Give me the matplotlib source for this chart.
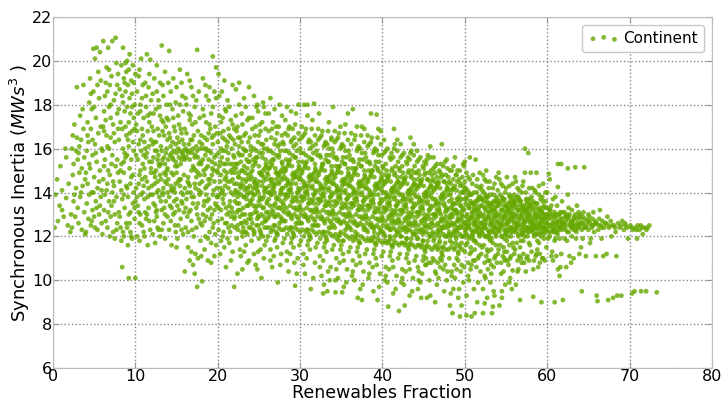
import numpy as np
import matplotlib
matplotlib.use("Agg")
import matplotlib.pyplot as plt

# (renewables fraction, synchronous inertia) points, one block per decade
pts_00_10 = """
0.2 12.4, 0.3 13.9, 0.5 14.6, 0.6 12.7, 0.8 13.4, 0.9 15.2, 1.1 13.2, 1.1 14.1, 1.3 12.9, 1.5 16.0, 1.6 13.75, 1.6 15.6, 1.8 12.5, 1.9 14.4,
2.1 12.2, 2.2 13.0, 2.3 12.4, 2.3 16.0, 2.4 14.8, 2.5 15.3, 2.5 13.6, 2.6 17.1, 2.7 12.9, 2.8 14.2, 2.9 18.8, 2.9 16.5, 3.0 13.3, 3.1 15.8,
3.1 12.6, 3.2 14.9, 3.3 17.5, 3.3 13.8, 3.4 16.4, 3.5 12.3, 3.5 15.1, 3.6 14.3, 3.7 18.9, 3.7 16.9, 3.8 13.1, 3.8 15.6, 3.9 12.1, 3.9 14.6,
2.4 16.6, 2.8 15.9, 3.2 16.1, 3.6 17.8, 2.6 13.9, 3.4 14.0, 3.0 15.5,
4.0 12.2, 4.1 13.5, 4.1 15.9, 4.2 17.2, 4.2 14.4, 4.3 12.8, 4.3 16.3, 4.4 18.1, 4.4 13.9, 4.5 19.2, 4.5 15.1, 4.6 12.5, 4.6 16.9, 4.7 14.0,
4.7 17.8, 4.8 13.2, 4.8 15.7, 4.9 20.55, 4.9 18.6, 5.0 12.9, 5.0 14.7, 5.1 20.1, 5.1 16.2, 5.2 13.6, 5.2 17.4, 5.3 20.6, 5.3 15.4, 5.4 12.3,
5.4 14.2, 5.5 19.5, 5.5 16.7, 5.6 13.0, 5.6 18.3, 5.7 20.4, 5.7 15.0, 5.8 13.8, 5.8 17.0, 5.9 12.6, 5.9 16.0, 4.6 18.5, 5.0 17.9, 5.4 18.9,
5.8 19.1, 4.2 16.6, 4.8 16.4, 5.2 15.8, 5.6 14.5, 4.4 15.3, 4.0 14.9, 5.9 14.1, 5.3 13.3, 4.7 12.7, 5.1 12.4, 4.9 14.0, 5.7 13.4,
6.0 12.1, 6.1 20.9, 6.1 14.6, 6.2 16.8, 6.2 13.2, 6.3 18.4, 6.3 15.5, 6.4 12.7, 6.4 17.3, 6.5 19.7, 6.5 14.1, 6.6 16.1, 6.6 12.4, 6.7 20.6,
6.7 15.0, 6.8 13.6, 6.8 17.9, 6.9 18.9, 6.9 14.8, 7.0 12.9, 7.0 16.5, 7.1 19.3, 7.1 13.4, 7.2 20.9, 7.2 15.7, 7.3 17.1, 7.3 12.2, 7.4 14.3,
7.4 18.2, 7.5 16.3, 7.5 13.0, 7.6 21.05, 7.6 15.2, 7.7 19.9, 7.7 13.8, 7.8 17.6, 7.8 12.6, 7.9 14.9, 7.9 16.9, 6.0 15.9, 6.2 17.7, 6.4 19.0,
6.6 18.6, 6.8 16.0, 7.0 18.0, 7.2 14.0, 7.4 16.7, 7.6 18.5, 7.8 15.5, 6.3 13.9, 6.9 12.0, 7.5 11.9, 6.1 17.0, 6.5 16.6, 6.7 13.1, 7.1 15.3,
7.3 14.5, 7.7 12.3, 7.9 19.4, 6.6 14.4, 7.0 17.4, 7.4 13.6, 7.8 18.9, 6.2 15.2, 6.8 19.6,
8.0 13.1, 8.0 16.4, 8.1 18.7, 8.1 14.5, 8.2 12.4, 8.2 17.2, 8.3 19.8, 8.3 15.3, 8.4 10.6, 8.4 13.7, 8.5 20.6, 8.5 18.1, 8.5 16.0, 8.6 12.0,
8.6 19.2, 8.6 14.9, 8.7 17.7, 8.7 13.3, 8.8 18.6, 8.8 15.6, 8.9 19.5, 8.9 12.6, 9.0 20.0, 9.0 17.9, 9.0 14.2, 9.1 18.9, 9.1 16.4, 9.2 10.1,
9.2 19.6, 9.2 13.0, 9.3 20.3, 9.3 18.3, 9.3 15.1, 9.4 17.6, 9.4 12.2, 9.5 19.1, 9.5 14.7, 9.6 18.5, 9.6 16.8, 9.7 19.8, 9.7 13.5, 9.8 17.4,
9.8 15.9, 9.9 18.0, 9.9 12.8, 10.0 19.4, 10.0 10.1, 8.2 15.0, 8.4 16.9, 8.6 13.9, 8.8 17.0, 9.0 12.4, 9.2 16.1, 9.4 14.4, 9.6 11.9, 9.8 14.0,
8.1 12.9, 8.3 14.1, 8.5 12.2, 8.7 15.8, 8.9 16.6, 9.1 13.8, 9.3 12.6, 9.5 15.5, 9.7 16.3, 9.9 13.3, 8.0 17.8, 8.4 18.4, 8.8 19.9, 9.2 17.2,
9.6 17.9, 9.9 16.9, 8.3 11.8, 9.1 11.6, 9.5 12.0, 8.6 15.4, 9.4 13.1, 8.9 14.3, 9.7 14.8, 9.0 15.7, 8.7 19.0, 9.8 19.0, 9.3 16.7
"""

pts_10_20 = """
10.1 14.2, 10.1 17.1, 10.2 12.0, 10.2 18.6, 10.3 15.5, 10.3 13.4, 10.4 19.3, 10.4 16.2, 10.5 11.8, 10.5 14.8, 10.6 17.7, 10.6 13.0,
10.7 20.1, 10.7 15.9, 10.8 12.5, 10.8 18.3, 10.9 14.0, 10.9 16.6, 11.0 12.2, 11.0 17.4, 11.1 15.1, 11.1 13.7, 11.2 19.0, 11.2 16.0,
11.3 12.8, 11.3 17.9, 11.4 20.3, 11.4 14.5, 11.5 16.8, 11.5 11.6, 11.6 13.3, 11.6 18.8, 11.7 15.4, 11.7 17.2, 11.8 20.05, 11.8 12.3,
11.9 14.9, 11.9 16.4, 10.2 16.8, 10.4 14.4, 10.6 15.0, 10.8 16.9, 11.0 14.3, 11.2 13.1, 11.4 15.8, 11.6 14.2, 11.8 17.6, 10.3 17.6,
10.5 12.6, 10.7 13.9, 10.9 18.9, 11.1 12.0, 11.3 15.6, 11.5 13.8, 11.7 12.7, 11.9 18.2, 10.1 15.7, 10.6 18.0, 11.1 16.3, 11.6 16.1,
10.4 13.1, 10.9 15.3, 11.4 13.0, 11.9 15.1, 10.0 13.6, 10.8 14.6, 11.2 14.7, 11.7 19.4, 10.5 19.6, 11.3 18.4, 10.2 13.8, 11.0 15.7,
11.8 13.9, 10.6 16.4, 11.5 17.5,
12.0 14.3, 12.0 17.0, 12.1 12.1, 12.1 18.5, 12.2 15.6, 12.2 13.5, 12.3 19.2, 12.3 16.3, 12.4 11.7, 12.4 14.7, 12.5 17.8, 12.5 13.1,
12.6 19.8, 12.6 15.9, 12.7 12.4, 12.7 16.9, 12.8 14.1, 12.8 18.2, 12.9 15.2, 12.9 13.8, 13.0 17.5, 13.0 12.0, 13.1 16.1, 13.1 14.6,
13.2 20.7, 13.2 13.2, 13.3 18.9, 13.3 15.5, 13.4 12.6, 13.4 17.2, 13.5 14.9, 13.5 16.6, 13.6 11.9, 13.6 19.5, 13.7 15.8, 13.7 13.6,
13.8 18.0, 13.8 14.4, 13.9 16.4, 13.9 12.9, 12.0 15.4, 12.2 16.8, 12.4 15.9, 12.6 14.0, 12.8 15.7, 13.0 14.8, 13.2 15.9, 13.4 14.2,
13.6 15.3, 13.8 16.0, 12.1 13.9, 12.3 12.7, 12.5 15.0, 12.7 14.5, 12.9 16.6, 13.1 13.6, 13.3 14.0, 13.5 13.3, 13.7 17.0, 13.9 15.1,
12.2 17.6, 12.6 18.6, 13.0 19.0, 13.4 18.4, 13.8 17.4, 12.4 13.4, 12.8 12.3, 13.2 12.3, 13.6 13.0, 12.1 16.2, 12.5 16.3, 12.9 17.9,
13.3 16.8, 13.7 14.8, 12.3 14.9, 12.7 15.5, 13.1 15.3, 13.5 15.6, 13.9 14.0, 13.2 17.3, 12.6 12.9,
14.0 14.6, 14.0 17.3, 14.1 20.45, 14.1 12.3, 14.2 15.7, 14.2 13.4, 14.3 18.6, 14.3 16.1, 14.4 11.6, 14.4 14.9, 14.5 17.8, 14.5 15.6,
14.6 13.0, 14.6 19.2, 14.7 15.9, 14.7 14.2, 14.8 16.8, 14.8 12.5, 14.9 15.4, 14.9 18.1, 15.0 13.7, 15.0 15.8, 15.1 16.5, 15.1 11.9,
15.2 14.5, 15.2 17.5, 15.3 15.6, 15.3 13.2, 15.4 19.6, 15.4 15.9, 15.5 12.8, 15.5 16.9, 15.6 14.0, 15.6 15.5, 15.7 18.4, 15.7 13.5,
15.8 15.7, 15.8 12.1, 15.9 16.2, 15.9 14.8, 14.0 15.5, 14.2 16.5, 14.4 15.8, 14.6 15.5, 14.8 14.0, 15.0 14.9, 15.2 16.0, 15.4 14.3,
15.6 16.7, 15.8 13.9, 14.1 13.8, 14.3 12.7, 14.5 14.1, 14.7 17.0, 14.9 12.2, 15.1 13.4, 15.3 17.1, 15.5 14.6, 15.7 15.8, 15.9 13.1,
14.2 18.0, 14.6 17.4, 15.0 18.8, 15.4 18.0, 15.8 17.7, 14.4 13.3, 14.8 13.1, 15.2 12.5, 15.6 12.3, 14.1 16.7, 14.5 16.3, 14.9 16.2,
15.3 16.3, 15.7 16.4, 14.3 14.3, 14.7 13.6, 15.1 15.2, 15.5 15.3, 15.9 15.6, 14.0 19.0, 15.0 11.5, 15.6 19.0, 14.9 14.4,
16.0 14.2, 16.0 16.9, 16.1 12.4, 16.1 18.3, 16.2 15.6, 16.2 13.7, 16.3 19.4, 16.3 15.9, 16.4 11.5, 16.4 14.7, 16.5 17.6, 16.5 13.1,
16.6 15.5, 16.6 10.9, 16.7 16.4, 16.7 14.0, 16.8 18.8, 16.8 12.7, 16.9 15.8, 16.9 17.1, 17.0 13.5, 17.0 15.2, 17.1 16.6, 17.1 12.0,
17.2 14.4, 17.2 17.9, 17.3 15.7, 17.3 11.2, 17.4 13.3, 17.4 16.1, 17.5 20.5, 17.5 9.7, 17.6 14.9, 17.6 15.6, 17.7 12.8, 17.7 18.6,
17.8 16.3, 17.8 13.9, 17.9 15.4, 17.9 11.8, 16.0 15.5, 16.2 16.7, 16.4 15.8, 16.6 14.3, 16.8 15.0, 17.0 16.0, 17.2 15.6, 17.4 14.7,
17.6 16.8, 17.8 14.4, 16.1 13.3, 16.3 12.9, 16.5 14.4, 16.7 17.5, 16.9 12.3, 17.1 13.8, 17.3 17.2, 17.5 13.0, 17.7 15.3, 17.9 12.6,
16.2 18.0, 16.6 19.1, 17.0 18.4, 17.4 18.2, 17.8 17.4, 16.4 12.2, 16.8 11.3, 17.2 10.3, 17.6 11.0, 16.1 16.0, 16.5 16.2, 16.9 16.4,
17.3 14.2, 17.7 14.1, 16.3 14.0, 16.7 13.2, 17.1 15.1, 17.5 15.9, 17.9 16.0, 16.0 10.4, 17.0 10.7, 16.6 17.3, 17.4 12.4,
18.0 14.0, 18.0 16.6, 18.1 9.95, 18.1 12.5, 18.2 15.5, 18.2 17.8, 18.3 13.4, 18.3 16.0, 18.4 11.4, 18.4 14.8, 18.5 18.9, 18.5 15.7,
18.6 12.9, 18.6 17.2, 18.7 14.3, 18.7 16.4, 18.8 11.9, 18.8 15.2, 18.9 18.2, 18.9 13.7, 19.0 15.9, 19.0 12.2, 19.1 16.9, 19.1 14.6,
19.2 10.8, 19.2 17.6, 19.3 15.4, 19.3 13.0, 19.4 20.2, 19.4 16.2, 19.5 12.6, 19.5 14.1, 19.6 18.6, 19.6 15.6, 19.7 13.5, 19.7 17.0,
19.8 19.7, 19.8 11.6, 19.9 15.0, 19.9 16.7, 18.0 15.3, 18.2 13.0, 18.4 16.5, 18.6 15.1, 18.8 13.2, 19.0 14.4, 19.2 15.8, 19.4 13.9,
19.6 14.5, 19.8 15.7, 18.1 14.5, 18.3 17.5, 18.5 12.0, 18.7 15.9, 18.9 16.7, 19.1 12.8, 19.3 14.8, 19.5 16.6, 19.7 12.1, 19.9 13.8,
18.2 19.2, 18.6 18.4, 19.0 18.8, 19.4 17.9, 19.8 18.3, 18.4 12.7, 18.8 10.9, 19.2 11.7, 19.6 11.1, 18.1 16.2, 18.5 14.2, 18.9 15.5,
19.3 16.5, 19.7 15.3, 18.3 15.0, 18.7 13.6, 19.1 13.3, 19.5 15.0, 19.9 14.2, 18.0 11.1, 19.0 17.1, 18.6 13.9, 19.4 12.4
"""

pts_20_30 = """
20.0 13.8, 20.0 16.3, 20.1 19.4, 20.1 12.3, 20.2 15.2, 20.2 17.5, 20.3 14.5, 20.3 11.2, 20.4 16.0, 20.4 13.2, 20.5 18.6, 20.5 15.6,
20.6 12.0, 20.6 14.1, 20.7 16.8, 20.7 13.5, 20.8 19.1, 20.8 15.0, 20.9 12.6, 20.9 17.8, 21.0 14.7, 21.0 10.6, 21.1 16.1, 21.1 13.0,
21.2 15.5, 21.2 18.2, 21.3 12.4, 21.3 14.2, 21.4 16.6, 21.4 11.7, 21.5 15.3, 21.5 13.6, 21.6 17.3, 21.6 12.9, 21.7 14.9, 21.7 16.0,
21.8 18.9, 21.8 11.3, 21.9 15.7, 21.9 13.9, 22.0 9.7, 22.0 14.4, 20.0 14.9, 20.2 13.9, 20.4 14.8, 20.6 15.9, 20.8 13.9, 21.0 15.3,
21.2 14.5, 21.4 13.4, 21.6 15.0, 21.8 14.6, 20.1 15.8, 20.3 16.7, 20.5 12.8, 20.7 12.2, 20.9 14.3, 21.1 14.9, 21.3 15.8, 21.5 12.2,
21.7 13.3, 21.9 16.4, 20.2 18.4, 20.6 17.4, 21.0 17.7, 21.4 17.9, 21.8 17.1, 20.4 11.8, 20.8 11.5, 21.2 11.9, 21.6 10.9, 20.1 13.3,
20.5 14.0, 20.9 15.9, 21.3 16.9, 21.7 12.5, 20.3 15.4, 20.7 15.3, 21.1 12.6, 21.5 14.5, 21.9 15.1, 20.0 12.7, 20.6 16.5, 21.2 16.3,
21.8 13.1, 20.4 17.2, 21.0 13.3, 21.6 16.5, 20.9 16.4,
22.0 12.8, 22.1 16.2, 22.1 13.6, 22.2 18.7, 22.2 15.1, 22.3 11.9, 22.3 14.4, 22.4 17.0, 22.4 12.5, 22.5 15.8, 22.5 13.2, 22.6 19.0,
22.6 14.9, 22.7 11.4, 22.7 16.5, 22.8 13.9, 22.8 15.4, 22.9 12.2, 22.9 17.6, 23.0 14.6, 23.0 10.5, 23.1 16.0, 23.1 13.3, 23.2 15.2,
23.2 18.3, 23.3 12.7, 23.3 14.1, 23.4 16.7, 23.4 11.6, 23.5 15.5, 23.5 13.7, 23.6 17.3, 23.6 12.1, 23.7 14.8, 23.7 16.3, 23.8 18.8,
23.8 10.9, 23.9 15.7, 23.9 13.0, 22.0 15.6, 22.2 14.0, 22.4 15.3, 22.6 13.5, 22.8 14.2, 23.0 15.7, 23.2 13.8, 23.4 14.5, 23.6 15.1,
23.8 14.0, 22.1 12.4, 22.3 16.8, 22.5 14.7, 22.7 12.9, 22.9 15.0, 23.1 12.4, 23.3 15.9, 23.5 12.6, 23.7 13.4, 23.9 16.5, 22.2 17.5,
22.6 18.0, 23.0 17.1, 23.4 17.9, 23.8 17.4, 22.4 10.3, 22.8 11.1, 23.2 11.3, 23.6 10.8, 22.1 14.9, 22.5 16.5, 22.9 16.3, 23.3 13.0,
23.7 15.4, 22.3 13.1, 22.7 14.3, 23.1 14.3, 23.5 14.2, 23.9 14.6, 22.0 16.9, 22.6 16.1, 23.2 16.6, 23.8 12.4, 22.4 13.8, 23.0 12.0,
23.6 13.9, 22.8 12.6, 23.4 12.2,
24.0 13.5, 24.0 16.1, 24.1 11.8, 24.1 14.7, 24.2 17.4, 24.2 12.6, 24.3 15.5, 24.3 13.9, 24.4 18.4, 24.4 12.1, 24.5 14.4, 24.5 16.6,
24.6 10.7, 24.6 13.3, 24.7 15.9, 24.7 17.9, 24.8 12.8, 24.8 14.1, 24.9 16.3, 24.9 11.3, 25.0 15.2, 25.0 13.6, 25.1 17.1, 25.1 12.3,
25.2 14.9, 25.2 16.8, 25.3 10.1, 25.3 13.0, 25.4 15.6, 25.4 14.3, 25.5 18.1, 25.5 12.0, 25.6 16.0, 25.6 13.8, 25.7 11.6, 25.7 15.1,
25.8 17.6, 25.8 12.7, 25.9 14.6, 25.9 16.4, 24.0 14.9, 24.2 15.0, 24.4 14.5, 24.6 15.4, 24.8 15.6, 25.0 14.5, 25.2 13.4, 25.4 12.6,
25.6 14.7, 25.8 15.5, 24.1 13.0, 24.3 12.3, 24.5 15.3, 24.7 12.5, 24.9 14.0, 25.1 15.8, 25.3 16.2, 25.5 13.3, 25.7 14.0, 25.9 13.1,
24.2 16.9, 24.6 17.0, 25.0 16.6, 25.4 17.2, 25.8 16.9, 24.4 11.2, 24.8 10.5, 25.2 11.4, 25.6 11.0, 24.1 15.9, 24.5 13.1, 24.9 12.9,
25.3 14.8, 25.7 12.4, 24.3 14.2, 24.7 14.4, 25.1 13.8, 25.5 15.0, 25.9 15.2, 24.0 12.4, 24.6 14.2, 25.2 12.2, 25.8 14.2, 24.4 16.0,
25.0 11.9, 25.6 12.9, 24.8 13.4, 25.4 13.7, 24.2 13.7, 25.9 11.8, 24.9 17.7, 25.5 16.2, 24.8 18.0, 25.6 17.9,
26.0 13.6, 26.0 16.0, 26.1 12.0, 26.1 14.8, 26.2 17.6, 26.2 12.9, 26.3 15.4, 26.3 14.0, 26.4 18.3, 26.4 11.4, 26.5 14.5, 26.5 16.5,
26.6 10.6, 26.6 13.2, 26.7 15.8, 26.7 17.2, 26.8 12.5, 26.8 14.2, 26.9 16.2, 26.9 11.8, 27.0 15.1, 27.0 13.5, 27.1 17.0, 27.1 12.2,
27.2 14.9, 27.2 16.7, 27.3 9.9, 27.3 13.0, 27.4 15.6, 27.4 14.4, 27.5 18.0, 27.5 12.6, 27.6 15.9, 27.6 13.9, 27.7 11.2, 27.7 15.0,
27.8 17.5, 27.8 12.8, 27.9 14.6, 27.9 16.3, 26.0 14.9, 26.2 15.1, 26.4 14.6, 26.6 15.3, 26.8 15.5, 27.0 14.4, 27.2 13.3, 27.4 12.4,
27.6 14.7, 27.8 15.4, 26.1 13.1, 26.3 12.4, 26.5 15.2, 26.7 12.3, 26.9 14.0, 27.1 15.7, 27.3 16.1, 27.5 13.3, 27.7 14.0, 27.9 13.2,
26.2 16.8, 26.6 16.9, 27.0 16.4, 27.4 17.0, 27.8 16.6, 26.4 10.9, 26.8 11.1, 27.2 11.5, 27.6 10.7, 26.1 15.9, 26.5 13.0, 26.9 12.9,
27.3 14.8, 27.7 12.3, 26.3 14.3, 26.7 14.4, 27.1 13.8, 27.5 14.9, 27.9 15.1, 26.0 12.4, 26.6 14.1, 27.2 12.1, 27.8 14.2, 26.4 15.9,
27.0 11.9, 27.6 12.9, 26.8 13.4, 27.4 13.7, 26.2 13.7, 27.9 11.7, 26.9 17.8, 27.5 16.2, 26.5 13.9, 27.1 14.6, 27.7 13.6,
28.0 13.4, 28.0 16.2, 28.1 11.9, 28.1 14.7, 28.2 17.3, 28.2 12.7, 28.3 15.5, 28.3 13.9, 28.4 17.9, 28.4 11.3, 28.5 14.4, 28.5 16.6,
28.6 10.4, 28.6 13.1, 28.7 15.8, 28.7 17.0, 28.8 12.4, 28.8 14.1, 28.9 16.3, 28.9 11.7, 29.0 15.2, 29.0 13.6, 29.1 16.9, 29.1 12.2,
29.2 14.9, 29.2 16.1, 29.3 10.8, 29.3 13.0, 29.4 15.6, 29.4 9.75, 29.5 17.6, 29.5 12.6, 29.6 15.9, 29.6 13.8, 29.7 11.0, 29.7 15.0,
29.8 18.0, 29.8 12.8, 29.9 14.6, 29.9 16.4, 28.0 14.9, 28.2 15.1, 28.4 14.6, 28.6 15.3, 28.8 15.5, 29.0 14.4, 29.2 13.3, 29.4 12.4,
29.6 14.7, 29.8 15.4, 28.1 13.1, 28.3 12.4, 28.5 15.2, 28.7 12.3, 28.9 14.0, 29.1 15.7, 29.3 16.5, 29.5 13.3, 29.7 14.0, 29.9 13.2,
28.2 16.7, 28.6 16.9, 29.0 16.4, 29.4 17.1, 29.8 16.7, 28.4 10.9, 28.8 11.2, 29.2 11.5, 29.6 10.3, 28.1 15.9, 28.5 13.0, 28.9 12.9,
29.3 14.8, 29.7 12.3, 28.3 14.3, 28.7 14.4, 29.1 13.8, 29.5 14.9, 29.9 15.1, 28.0 12.3, 28.6 14.1, 29.2 12.1, 29.8 14.2, 28.4 15.9,
29.0 11.9, 29.6 12.9, 28.8 13.4, 29.4 13.7, 28.2 13.7, 29.9 11.6, 28.9 17.7, 29.5 16.2, 28.5 13.9, 29.1 14.6, 29.7 13.6
"""

pts_30_40 = """
30.0 13.3, 30.0 16.0, 30.1 11.8, 30.1 14.6, 30.2 17.0, 30.2 12.6, 30.3 15.4, 30.3 13.8, 30.4 16.6, 30.4 11.2, 30.5 18.0, 30.5 14.3,
30.6 10.3, 30.6 13.0, 30.7 15.7, 30.7 16.9, 30.8 12.3, 30.8 14.0, 30.9 18.0, 30.9 11.6, 31.0 15.1, 31.0 13.5, 31.1 16.4, 31.1 12.1,
31.2 14.8, 31.2 16.0, 31.3 9.6, 31.3 12.9, 31.4 15.5, 31.4 14.2, 31.5 17.3, 31.5 12.5, 31.6 15.8, 31.6 13.7, 31.7 18.05, 31.7 14.9,
31.8 10.8, 31.8 12.7, 31.9 14.5, 31.9 16.2, 30.0 14.8, 30.2 15.0, 30.4 14.5, 30.6 15.2, 30.8 15.4, 31.0 14.3, 31.2 13.2, 31.4 12.3,
31.6 14.6, 31.8 15.3, 30.1 13.0, 30.3 12.3, 30.5 15.1, 30.7 12.2, 30.9 13.9, 31.1 15.6, 31.3 16.3, 31.5 13.2, 31.7 13.9, 31.9 13.1,
30.2 16.5, 30.6 16.7, 31.0 16.3, 31.4 16.9, 31.8 16.6, 30.4 10.7, 30.8 11.0, 31.2 11.4, 31.6 10.1, 30.1 15.8, 30.5 12.9, 30.9 12.8,
31.3 14.7, 31.7 12.2, 30.3 14.2, 30.7 14.3, 31.1 13.7, 31.5 14.8, 31.9 15.0, 30.0 12.2, 30.6 14.0, 31.2 12.0, 31.8 14.1, 30.4 15.8,
31.0 11.8, 31.6 12.8, 30.8 13.3, 31.4 13.6, 30.2 13.6, 31.9 11.5, 30.9 17.5, 31.5 16.1, 30.5 13.8, 31.1 14.5, 31.7 13.5,
32.0 13.2, 32.0 15.9, 32.1 11.7, 32.1 14.5, 32.2 16.9, 32.2 12.5, 32.3 17.6, 32.3 13.7, 32.4 16.5, 32.4 11.1, 32.5 14.2, 32.5 15.6,
32.6 10.2, 32.6 12.9, 32.7 15.3, 32.7 16.8, 32.8 12.2, 32.8 9.4, 32.9 16.1, 32.9 11.5, 33.0 15.0, 33.0 13.4, 33.1 16.3, 33.1 12.0,
33.2 14.7, 33.2 15.7, 33.3 9.5, 33.3 12.8, 33.4 15.4, 33.4 14.1, 33.5 17.2, 33.5 12.4, 33.6 15.7, 33.6 13.6, 33.7 10.6, 33.7 14.8,
33.8 16.4, 33.8 12.6, 33.9 14.4, 33.9 16.0, 32.0 14.7, 32.2 14.9, 32.4 14.4, 32.6 15.1, 32.8 15.3, 33.0 14.2, 33.2 13.1, 33.4 12.2,
33.6 14.5, 33.8 15.2, 32.1 12.9, 32.3 12.2, 32.5 15.0, 32.7 12.1, 32.9 13.8, 33.1 15.5, 33.3 16.2, 33.5 13.1, 33.7 13.8, 33.9 13.0,
32.2 16.4, 32.6 16.6, 33.0 16.2, 33.4 16.8, 33.8 16.5, 32.4 10.6, 32.8 10.9, 33.2 11.3, 33.6 10.0, 32.1 15.7, 32.5 12.8, 32.9 12.7,
33.3 14.6, 33.7 12.1, 32.3 14.1, 32.7 14.2, 33.1 13.6, 33.5 14.7, 33.9 14.9, 32.0 12.1, 32.6 13.9, 33.2 11.9, 33.8 14.0, 32.4 15.7,
33.0 11.7, 33.6 12.7, 32.8 13.2, 33.4 13.5, 32.2 13.5, 33.9 11.4, 34.0 17.9, 33.5 16.0, 32.5 13.7, 33.1 14.4, 33.7 13.4, 32.9 9.8,
33.4 10.4, 32.8 13.9,
34.0 13.1, 34.0 15.8, 34.1 11.6, 34.1 14.4, 34.2 16.8, 34.2 12.4, 34.3 15.2, 34.3 9.45, 34.4 16.4, 34.4 11.0, 34.5 14.1, 34.5 15.5,
34.6 10.1, 34.6 12.8, 34.7 15.2, 34.7 16.7, 34.8 12.1, 34.8 13.8, 34.9 16.0, 34.9 11.4, 35.0 14.9, 35.0 13.3, 35.1 16.2, 35.1 9.45,
35.2 14.6, 35.2 15.6, 35.3 9.7, 35.3 12.7, 35.4 15.3, 35.4 14.0, 35.5 17.1, 35.5 12.3, 35.6 15.6, 35.6 13.5, 35.7 10.5, 35.7 14.7,
35.8 17.6, 35.8 12.5, 35.9 14.3, 35.9 15.9, 34.0 14.6, 34.2 14.8, 34.4 14.3, 34.6 15.0, 34.8 15.2, 35.0 14.1, 35.2 13.0, 35.4 12.1,
35.6 14.4, 35.8 15.1, 34.1 12.8, 34.3 12.1, 34.5 14.9, 34.7 12.0, 34.9 13.7, 35.1 15.4, 35.3 16.1, 35.5 13.0, 35.7 13.7, 35.9 12.9,
34.2 16.3, 34.6 16.5, 35.0 16.1, 35.4 16.7, 35.8 16.4, 34.4 10.5, 34.8 10.8, 35.2 11.2, 35.6 9.9, 34.1 15.6, 34.5 12.7, 34.9 12.6,
35.3 14.5, 35.7 12.0, 34.3 14.0, 34.7 14.1, 35.1 13.5, 35.5 14.6, 35.9 14.8, 34.0 12.0, 34.6 13.8, 35.2 11.8, 35.8 13.9, 34.4 15.6,
35.0 11.6, 35.6 12.6, 34.8 13.1, 35.4 13.4, 34.2 13.4, 35.9 11.3, 34.9 17.0, 35.5 15.9, 34.5 13.6, 35.1 14.3, 35.7 13.3, 34.3 10.0,
35.3 10.9, 34.7 11.8,
36.0 13.0, 36.0 15.7, 36.1 11.5, 36.1 14.3, 36.2 16.7, 36.2 12.3, 36.3 15.1, 36.3 13.5, 36.4 17.8, 36.4 10.9, 36.5 14.0, 36.5 15.4,
36.6 10.0, 36.6 12.7, 36.7 15.1, 36.7 16.6, 36.8 12.0, 36.8 13.7, 36.9 15.9, 36.9 11.3, 37.0 14.8, 37.0 9.2, 37.1 16.1, 37.1 11.8,
37.2 14.5, 37.2 15.5, 37.3 9.6, 37.3 12.6, 37.4 15.2, 37.4 13.9, 37.5 17.0, 37.5 9.1, 37.6 15.5, 37.6 13.4, 37.7 10.4, 37.7 14.6,
37.8 16.3, 37.8 12.4, 37.9 14.2, 37.9 15.8, 36.0 14.5, 36.2 14.7, 36.4 14.2, 36.6 14.9, 36.8 15.1, 37.0 14.0, 37.2 12.9, 37.4 12.0,
37.6 14.3, 37.8 15.0, 36.1 12.7, 36.3 12.0, 36.5 14.8, 36.7 11.9, 36.9 13.6, 37.1 15.3, 37.3 16.0, 37.5 12.9, 37.7 13.6, 37.9 12.8,
36.2 16.2, 36.6 16.4, 37.0 16.0, 37.4 16.6, 37.8 16.9, 36.4 10.4, 36.8 10.7, 37.2 11.1, 37.6 9.8, 36.1 15.5, 36.5 12.6, 36.9 12.5,
37.3 14.4, 37.7 11.9, 36.3 13.9, 36.7 14.0, 37.1 13.4, 37.5 14.5, 37.9 14.7, 36.0 11.9, 36.6 13.7, 37.2 11.7, 37.8 13.8, 36.4 15.5,
37.0 11.5, 37.6 12.5, 36.8 13.0, 37.4 13.3, 36.2 13.3, 37.9 11.2, 36.9 17.0, 37.5 15.8, 36.5 13.5, 37.1 14.2, 37.7 13.2, 36.3 10.2,
37.3 10.8, 37.0 13.2, 36.7 12.2,
38.0 12.9, 38.0 15.6, 38.1 11.4, 38.1 14.2, 38.2 16.6, 38.2 12.2, 38.3 15.0, 38.3 13.4, 38.4 16.2, 38.4 10.8, 38.5 13.9, 38.5 15.3,
38.6 17.6, 38.6 12.6, 38.7 15.0, 38.7 16.5, 38.8 11.9, 38.8 13.6, 38.9 15.8, 38.9 11.2, 39.0 14.7, 39.0 13.1, 39.1 16.0, 39.1 11.7,
39.2 14.4, 39.2 15.4, 39.3 17.55, 39.3 12.5, 39.4 15.1, 39.4 9.1, 39.5 16.9, 39.5 12.1, 39.6 15.4, 39.6 13.3, 39.7 10.3, 39.7 14.5,
39.8 16.2, 39.8 12.3, 39.9 14.1, 39.9 15.7, 38.0 14.4, 38.2 14.6, 38.4 14.1, 38.6 14.8, 38.8 15.0, 39.0 13.9, 39.2 12.8, 39.4 11.9,
39.6 14.2, 39.8 14.9, 38.1 12.6, 38.3 11.9, 38.5 14.7, 38.7 11.8, 38.9 13.5, 39.1 15.2, 39.3 15.9, 39.5 12.8, 39.7 13.5, 39.9 12.7,
38.2 16.1, 38.6 16.3, 39.0 15.9, 39.4 16.5, 39.8 16.8, 38.4 10.3, 38.8 10.6, 39.2 11.0, 39.6 9.7, 38.1 15.4, 38.5 12.5, 38.9 12.4,
39.3 14.3, 39.7 11.8, 38.3 13.8, 38.7 13.9, 39.1 13.3, 39.5 14.4, 39.9 14.6, 38.0 11.8, 38.6 13.6, 39.2 11.6, 39.8 13.7, 38.4 15.4,
39.0 11.4, 39.6 12.4, 38.8 12.9, 39.4 13.2, 38.2 13.2, 39.9 11.1, 38.9 9.5, 39.5 15.7, 38.5 13.4, 39.1 14.1, 39.7 13.1, 38.3 10.1,
39.3 10.7, 39.0 12.2, 38.7 12.4
"""

pts_40_50 = """
40.0 12.8, 40.0 15.2, 40.1 11.3, 40.1 14.0, 40.2 16.4, 40.2 12.1, 40.3 14.8, 40.3 13.3, 40.4 15.9, 40.4 10.6, 40.5 13.8, 40.5 15.0,
40.6 9.9, 40.6 12.5, 40.7 8.8, 40.7 14.7, 40.8 11.8, 40.8 13.5, 40.9 15.6, 40.9 11.1, 41.0 14.5, 41.0 13.0, 41.1 15.8, 41.1 11.6,
41.2 14.2, 41.2 15.1, 41.3 9.4, 41.3 12.4, 41.4 16.9, 41.4 13.7, 41.5 16.2, 41.5 12.0, 41.6 15.2, 41.6 13.2, 41.7 10.2, 41.7 14.4,
41.8 15.9, 41.8 12.2, 41.9 14.0, 41.9 15.4, 40.0 14.3, 40.2 14.5, 40.4 14.0, 40.6 14.6, 40.8 14.8, 41.0 13.8, 41.2 12.7, 41.4 11.8,
41.6 14.1, 41.8 14.7, 40.1 12.5, 40.3 11.8, 40.5 14.5, 40.7 11.7, 40.9 13.4, 41.1 15.0, 41.3 15.6, 41.5 12.7, 41.7 13.4, 41.9 12.6,
40.2 15.8, 40.6 16.0, 41.0 15.5, 41.4 16.0, 41.8 16.4, 40.4 10.2, 40.8 10.5, 41.2 10.9, 41.6 9.6, 40.1 15.1, 40.5 12.4, 40.9 12.3,
41.3 14.2, 41.7 11.7, 40.3 13.7, 40.7 13.8, 41.1 13.2, 41.5 14.3, 41.9 14.5, 40.0 11.7, 40.6 13.5, 41.2 11.5, 41.8 13.6, 40.4 15.3,
41.0 11.3, 41.6 12.3, 40.8 12.8, 41.4 13.1, 40.2 13.1, 41.9 11.0, 40.9 12.0, 41.5 14.9, 40.5 13.3, 41.1 14.0, 41.7 13.0, 40.3 10.0,
41.3 10.6, 40.7 12.9, 41.1 12.6,
42.0 12.7, 42.0 15.1, 42.0 8.6, 42.1 11.2, 42.1 13.9, 42.2 16.2, 42.2 12.0, 42.3 14.7, 42.3 13.2, 42.4 15.7, 42.4 10.5, 42.5 13.7,
42.5 14.9, 42.6 9.8, 42.6 12.4, 42.7 8.85, 42.7 14.6, 42.8 11.7, 42.8 13.4, 42.9 15.4, 42.9 11.0, 43.0 14.4, 43.0 12.9, 43.1 15.6,
43.1 11.5, 43.2 14.1, 43.2 15.0, 43.3 9.3, 43.3 12.3, 43.4 16.5, 43.4 13.6, 43.5 15.9, 43.5 11.9, 43.6 15.0, 43.6 13.1, 43.7 10.1,
43.7 14.3, 43.8 15.7, 43.8 12.1, 43.9 13.9, 43.9 15.2, 42.0 14.2, 42.2 14.4, 42.4 13.9, 42.6 14.5, 42.8 14.7, 43.0 13.7, 43.2 12.6,
43.4 11.7, 43.6 14.0, 43.8 14.6, 42.1 12.4, 42.3 11.7, 42.5 14.4, 42.7 11.6, 42.9 13.3, 43.1 14.9, 43.3 15.5, 43.5 12.6, 43.7 13.3,
43.9 12.5, 42.2 15.6, 42.6 15.8, 43.0 15.3, 43.4 15.8, 43.8 16.2, 42.4 10.1, 42.8 10.4, 43.2 10.8, 43.6 9.5, 42.1 15.0, 42.5 12.3,
42.9 12.2, 43.3 14.1, 43.7 11.6, 42.3 13.6, 42.7 13.7, 43.1 13.1, 43.5 14.2, 43.9 14.4, 42.0 11.6, 42.6 13.4, 43.2 11.4, 43.8 13.5,
42.4 15.2, 43.0 11.2, 43.6 12.2, 42.8 12.7, 43.4 13.0, 42.2 13.0, 43.9 10.9, 42.9 11.9, 43.5 14.8, 42.5 13.2, 43.1 13.9, 43.7 12.9,
42.3 9.9, 43.3 10.5, 42.7 12.8, 43.1 12.5,
44.0 12.6, 44.0 14.9, 44.1 11.1, 44.1 13.8, 44.2 15.9, 44.2 11.9, 44.3 14.6, 44.3 13.1, 44.3 9.6, 44.4 15.5, 44.4 10.4, 44.5 13.6,
44.5 14.8, 44.6 9.9, 44.6 12.3, 44.7 9.2, 44.7 14.5, 44.8 11.6, 44.8 13.3, 44.9 15.2, 44.9 10.9, 45.0 14.3, 45.0 12.8, 45.1 15.4,
45.1 11.4, 45.2 14.0, 45.2 14.9, 45.3 10.7, 45.3 12.2, 45.4 9.2, 45.4 13.5, 45.5 15.7, 45.5 11.8, 45.6 14.9, 45.6 13.0, 45.7 10.0,
45.7 14.2, 45.8 16.1, 45.8 9.3, 45.8 12.0, 45.9 13.8, 45.9 15.0, 44.0 14.1, 44.2 14.3, 44.4 13.8, 44.6 14.4, 44.8 14.6, 45.0 13.6,
45.2 12.5, 45.4 11.6, 45.6 13.9, 45.8 14.5, 44.1 12.3, 44.3 11.6, 44.5 14.3, 44.7 11.5, 44.9 13.2, 45.1 14.8, 45.3 15.3, 45.5 12.5,
45.7 13.2, 45.9 12.4, 44.2 15.4, 44.6 15.6, 45.0 15.1, 45.4 15.5, 45.8 15.6, 44.4 10.0, 44.8 10.3, 45.2 10.7, 45.6 10.8, 44.1 14.9,
44.5 12.2, 44.9 12.1, 45.3 14.0, 45.7 11.5, 44.3 13.5, 44.7 13.6, 45.1 13.0, 45.5 14.1, 45.9 14.3, 44.0 11.5, 44.6 13.3, 45.2 11.3,
45.8 13.4, 44.4 15.0, 45.0 11.1, 45.6 12.1, 44.8 12.6, 45.4 12.9, 44.2 12.9, 45.9 10.8, 44.9 11.8, 45.5 14.6, 44.5 13.1, 45.1 13.8,
45.7 12.8, 44.3 10.6, 45.3 11.0, 44.7 12.7, 45.1 12.4,
46.0 12.6, 46.0 14.8, 46.1 11.0, 46.1 13.7, 46.2 15.6, 46.2 11.8, 46.3 14.5, 46.3 13.0, 46.4 9.0, 46.4 15.2, 46.5 10.3, 46.5 13.5,
46.6 14.7, 46.6 9.8, 46.7 12.2, 46.7 10.8, 46.8 14.4, 46.8 11.5, 46.9 13.2, 46.9 15.0, 47.0 10.6, 47.0 14.2, 47.1 12.7, 47.1 15.3,
47.2 16.2, 47.2 11.3, 47.3 13.9, 47.3 14.8, 47.4 10.5, 47.4 12.1, 47.5 9.5, 47.5 13.4, 47.6 15.4, 47.6 11.7, 47.7 14.8, 47.7 12.9,
47.8 10.0, 47.8 14.1, 47.9 15.1, 47.9 12.0, 46.0 14.0, 46.2 14.2, 46.4 13.7, 46.6 14.3, 46.8 14.5, 47.0 13.5, 47.2 12.4, 47.4 11.5,
47.6 13.8, 47.8 14.4, 46.1 12.2, 46.3 11.5, 46.5 14.2, 46.7 11.4, 46.9 13.1, 47.1 14.7, 47.3 12.4, 47.5 12.5, 47.7 13.2, 47.9 12.4,
46.2 15.1, 46.6 15.3, 47.0 14.9, 47.4 15.2, 47.8 15.5, 46.4 10.4, 46.8 10.1, 47.2 10.9, 47.6 10.7, 46.1 14.6, 46.5 12.1, 46.9 12.0,
47.3 13.9, 47.7 11.4, 46.3 13.4, 46.7 13.5, 47.1 13.0, 47.5 14.0, 47.9 14.2, 46.0 11.4, 46.6 13.2, 47.2 11.2, 47.8 13.3, 46.4 14.9,
47.0 11.0, 47.6 12.0, 46.8 12.5, 47.4 12.8, 46.2 12.8, 47.9 10.4, 46.9 11.7, 47.5 14.5, 46.5 13.0, 47.1 13.7, 47.7 12.7, 46.3 10.9,
47.3 11.1, 46.7 12.6, 47.1 12.3,
48.0 12.5, 48.0 14.7, 48.1 11.0, 48.1 13.6, 48.2 8.85, 48.2 11.8, 48.3 14.4, 48.3 13.0, 48.4 10.2, 48.4 15.0, 48.5 8.5, 48.5 13.4,
48.6 14.6, 48.6 9.6, 48.7 12.2, 48.7 10.7, 48.8 15.6, 48.8 11.5, 48.9 13.2, 48.9 14.8, 49.0 10.5, 49.0 14.1, 49.1 12.7, 49.1 15.0,
49.2 9.2, 49.2 11.3, 49.3 13.8, 49.3 14.6, 49.4 8.35, 49.4 12.1, 49.5 10.4, 49.5 13.4, 49.6 8.85, 49.6 11.7, 49.7 14.7, 49.7 12.9,
49.8 9.9, 49.8 14.0, 49.9 15.2, 49.9 12.0, 48.0 13.9, 48.2 14.1, 48.4 13.7, 48.6 14.2, 48.8 14.3, 49.0 13.5, 49.2 12.4, 49.4 11.5,
49.6 13.7, 49.8 14.3, 48.1 12.2, 48.3 11.5, 48.5 14.1, 48.7 11.4, 48.9 13.1, 49.1 14.5, 49.3 12.4, 49.5 12.5, 49.7 13.2, 49.9 12.4,
48.2 15.0, 48.6 15.2, 49.0 14.8, 49.4 15.0, 49.8 15.3, 48.4 10.4, 48.8 10.1, 49.2 10.9, 49.6 10.7, 48.1 14.5, 48.5 12.1, 48.9 12.0,
49.3 13.1, 49.7 11.4, 48.3 13.3, 48.7 13.5, 49.1 13.0, 49.5 14.0, 49.9 14.1, 48.0 11.4, 48.6 13.2, 49.2 11.2, 49.8 13.3, 48.4 12.6,
49.0 11.0, 49.6 12.0, 48.8 12.5, 49.4 12.8, 48.2 12.8, 49.9 10.6, 48.9 11.7, 49.5 14.4, 48.5 13.0, 49.1 13.7, 49.7 12.7, 48.3 9.4,
49.3 9.6, 48.7 12.6, 49.1 12.3
"""

pts_50_60 = """
50.0 12.6, 50.0 14.5, 50.0 15.4, 50.1 11.6, 50.1 13.5, 50.2 8.4, 50.2 12.1, 50.3 14.1, 50.3 13.0, 50.4 10.8, 50.4 14.7, 50.5 12.4,
50.5 13.3, 50.6 15.6, 50.6 11.2, 50.7 12.8, 50.7 10.5, 50.8 8.35, 50.8 13.9, 50.9 11.9, 50.9 14.4, 51.0 10.9, 51.0 13.1, 51.1 12.5,
51.1 14.0, 51.2 8.5, 51.2 11.4, 51.3 15.5, 51.3 13.6, 51.4 12.2, 51.4 10.6, 51.5 13.2, 51.5 14.6, 51.6 9.9, 51.6 12.7, 51.7 11.1,
51.7 13.8, 51.8 14.2, 51.8 12.0, 51.9 10.4, 51.9 13.4, 50.0 13.7, 50.2 13.8, 50.4 13.4, 50.6 13.9, 50.8 12.9, 51.0 13.5, 51.2 12.6,
51.4 13.0, 51.6 13.7, 51.8 13.1, 50.1 12.3, 50.3 11.7, 50.5 14.0, 50.7 11.5, 50.9 12.9, 51.1 13.3, 51.3 12.3, 51.5 12.5, 51.7 12.9,
51.9 12.4, 50.2 14.9, 50.6 14.6, 51.0 14.8, 51.4 14.3, 51.8 14.9, 50.4 10.2, 50.8 10.7, 51.2 10.9, 51.6 11.0, 50.1 14.2, 50.5 12.0,
50.9 12.1, 51.3 12.8, 51.7 12.2, 50.3 12.7, 50.7 13.6, 51.1 11.8, 51.5 13.6, 51.9 13.8, 50.0 11.3, 50.6 12.6, 51.2 13.2, 51.8 11.6,
50.4 12.5, 51.0 12.2, 51.6 12.4, 50.8 11.3, 51.4 11.7, 50.2 9.3, 51.1 9.6, 51.5 9.0, 50.5 10.0,
52.0 12.6, 52.0 14.3, 52.1 11.5, 52.1 13.4, 52.2 8.5, 52.2 12.1, 52.3 14.0, 52.3 13.0, 52.4 10.8, 52.4 14.6, 52.4 8.95, 52.5 12.4,
52.5 13.2, 52.6 15.0, 52.6 11.1, 52.7 12.8, 52.7 9.2, 52.8 10.5, 52.8 13.8, 52.9 11.9, 52.9 14.2, 53.0 10.9, 53.0 13.1, 53.1 12.5,
53.1 13.9, 53.2 10.3, 53.2 11.4, 53.3 8.5, 53.3 13.5, 53.4 8.8, 53.4 12.2, 53.5 10.6, 53.5 13.2, 53.6 9.3, 53.6 14.4, 53.7 12.7,
53.7 11.1, 53.8 13.8, 53.8 12.0, 53.9 10.8, 53.9 13.4, 52.0 13.7, 52.2 13.7, 52.4 13.3, 52.6 13.8, 52.8 12.9, 53.0 13.4, 53.2 12.6,
53.4 13.0, 53.6 13.6, 53.8 13.1, 52.1 12.3, 52.3 11.6, 52.5 13.9, 52.7 11.4, 52.9 12.9, 53.1 13.3, 53.3 12.3, 53.5 12.5, 53.7 12.9,
53.9 12.4, 52.2 14.8, 52.6 14.5, 53.0 14.5, 53.4 14.2, 53.8 14.7, 52.4 10.2, 52.8 10.9, 53.2 10.7, 53.6 11.0, 52.1 14.1, 52.5 12.0,
52.9 12.1, 53.3 12.8, 53.7 12.2, 52.3 12.7, 52.7 13.6, 53.1 11.8, 53.5 13.6, 53.9 13.7, 52.0 11.2, 52.6 12.6, 53.2 13.2, 53.8 11.6,
52.4 12.5, 53.0 12.2, 53.6 12.4, 52.8 11.3, 53.4 11.7, 52.2 9.6, 53.1 9.9, 53.5 9.5, 52.5 10.1,
54.0 12.7, 54.0 14.1, 54.1 11.4, 54.1 13.4, 54.2 8.85, 54.2 12.2, 54.3 13.9, 54.3 13.0, 54.4 10.8, 54.4 14.4, 54.5 9.5, 54.5 12.5,
54.6 13.2, 54.6 11.1, 54.7 12.8, 54.7 10.4, 54.8 13.7, 54.8 11.9, 54.9 14.0, 54.9 10.9, 55.0 13.1, 55.0 12.5, 55.1 14.7, 55.1 11.3,
55.2 13.5, 55.2 12.2, 55.3 10.7, 55.3 13.2, 55.4 14.3, 55.4 9.9, 55.5 12.7, 55.5 11.0, 55.6 13.8, 55.6 12.0, 55.7 9.6, 55.7 13.4,
55.8 10.45, 55.8 12.9, 55.9 13.6, 55.9 11.5, 54.0 13.5, 54.2 13.6, 54.4 13.2, 54.6 13.7, 54.8 12.9, 55.0 13.4, 55.2 12.6, 55.4 13.0,
55.6 13.5, 55.8 13.1, 54.1 12.3, 54.3 11.6, 54.5 13.8, 54.7 11.5, 54.9 12.9, 55.1 13.3, 55.3 12.3, 55.5 12.4, 55.7 12.8, 55.9 12.4,
54.2 14.6, 54.6 14.3, 55.0 14.2, 55.4 13.9, 55.8 14.4, 54.4 10.3, 54.8 11.0, 55.2 10.9, 55.6 11.1, 54.1 14.9, 54.5 12.0, 54.9 12.1,
55.3 12.8, 55.7 12.2, 54.3 12.6, 54.7 13.6, 55.1 11.8, 55.5 13.6, 55.9 13.7, 54.0 11.2, 54.6 12.6, 55.2 13.2, 55.8 11.7, 54.4 12.5,
55.0 12.2, 55.6 12.4, 54.8 11.3, 55.4 11.6, 54.9 9.8, 55.5 10.1, 54.5 9.2,
56.0 12.7, 56.0 13.9, 56.1 11.4, 56.1 13.3, 56.2 9.8, 56.2 12.2, 56.3 13.8, 56.3 13.0, 56.4 10.9, 56.4 14.2, 56.5 10.5, 56.5 12.5,
56.6 13.2, 56.6 11.1, 56.7 12.8, 56.7 9.1, 56.8 13.6, 56.8 11.8, 56.9 14.0, 56.9 10.8, 57.0 13.1, 57.0 12.5, 57.1 14.5, 57.1 11.2,
57.2 13.4, 57.2 12.2, 57.3 16.0, 57.3 14.9, 57.4 13.2, 57.4 10.4, 57.5 12.7, 57.5 11.0, 57.6 13.7, 57.6 12.0, 57.7 15.8, 57.7 13.3,
57.8 10.9, 57.8 12.9, 57.9 13.5, 57.9 11.6, 56.0 13.5, 56.2 13.6, 56.4 13.2, 56.6 13.7, 56.8 12.9, 57.0 13.4, 57.2 12.6, 57.4 13.0,
57.6 13.5, 57.8 13.1, 56.1 12.3, 56.3 11.7, 56.5 13.8, 56.7 11.5, 56.9 12.9, 57.1 13.3, 57.3 12.3, 57.5 12.4, 57.7 12.8, 57.9 12.4,
56.2 14.5, 56.6 14.1, 57.0 14.3, 57.4 14.0, 57.8 14.2, 56.4 10.4, 56.8 11.0, 57.2 10.8, 57.6 11.1, 56.1 14.7, 56.5 12.0, 56.9 12.1,
57.3 12.8, 57.7 12.2, 56.3 12.6, 56.7 13.6, 57.1 11.8, 57.5 13.6, 57.9 13.7, 56.0 11.2, 56.6 12.6, 57.2 13.2, 57.8 11.7, 58.0 14.9,
58.3 9.25, 56.4 12.5, 57.0 12.2, 57.6 12.4,
58.0 12.7, 58.1 13.8, 58.1 11.3, 58.2 13.2, 58.2 12.2, 58.3 13.6, 58.4 10.9, 58.4 12.9, 58.5 14.1, 58.5 12.5, 58.6 13.3, 58.6 11.1,
58.7 14.9, 58.7 12.8, 58.8 13.5, 58.8 11.8, 58.9 10.6, 58.9 13.0, 59.0 12.5, 59.0 13.9, 59.1 11.2, 59.1 13.3, 59.2 12.2, 59.2 13.7,
59.3 9.0, 59.3 12.7, 59.4 13.1, 59.4 11.0, 59.5 14.4, 59.5 12.4, 59.6 13.4, 59.6 11.9, 59.7 12.8, 59.7 10.9, 59.8 13.6, 59.8 12.3,
59.9 13.0, 59.9 11.5, 58.0 13.4, 58.2 12.6, 58.4 13.5, 58.6 12.4, 58.8 12.9, 59.0 13.2, 59.2 12.8, 59.4 12.6, 59.6 12.9, 59.8 12.6,
58.1 12.4, 58.3 12.3, 58.5 13.0, 58.7 12.1, 58.9 12.6, 59.1 12.9, 59.3 12.4, 59.5 13.3, 59.7 12.4, 59.9 12.3, 58.2 14.2, 58.6 14.0,
59.0 14.3, 59.4 13.8, 59.8 14.0, 58.3 10.5, 58.7 11.2, 59.1 10.8, 59.5 11.0, 58.4 12.0, 59.0 11.7, 59.6 12.1, 58.8 11.4, 59.4 12.2
"""

pts_60_73 = """
60.0 12.6, 60.1 13.3, 60.1 11.9, 60.2 14.85, 60.2 12.2, 60.3 13.0, 60.3 14.6, 60.4 12.5, 60.5 11.1, 60.5 13.4, 60.6 12.8, 60.7 12.3,
60.7 13.7, 60.8 12.6, 60.9 9.0, 60.9 13.1, 61.0 12.4, 61.0 11.9, 61.1 12.9, 61.2 13.4, 61.2 12.2, 61.3 15.3, 61.3 10.5, 61.3 14.25,
61.4 12.7, 61.5 10.2, 61.5 13.0, 61.6 12.4, 61.7 15.3, 61.7 11.2, 61.8 12.8, 61.9 9.1, 61.9 12.5, 60.0 13.0, 60.4 13.2, 60.8 12.2,
61.2 12.6, 61.6 13.1, 60.2 12.9, 60.6 12.4, 61.0 13.0, 61.4 12.3, 61.8 12.6, 60.3 12.0, 60.9 11.8, 61.5 11.9, 60.6 11.3, 61.1 11.1,
61.8 13.6, 60.0 14.0, 61.0 13.8, 60.7 10.9, 61.6 10.6,
62.0 12.6, 62.1 13.1, 62.1 11.9, 62.2 12.3, 62.3 12.9, 62.3 10.6, 62.4 12.5, 62.5 15.1, 62.5 13.9, 62.5 12.8, 62.6 12.2, 62.7 13.0,
62.7 11.1, 62.8 12.6, 62.9 12.4, 63.0 13.2, 63.0 12.0, 63.1 12.7, 63.2 12.3, 63.3 12.9, 63.4 15.15, 63.4 12.5, 63.5 11.9, 63.6 12.8,
63.7 12.4, 63.8 13.1, 63.9 12.6, 63.9 11.2, 62.2 12.9, 62.6 13.3, 63.0 12.6, 63.4 13.0, 63.8 12.4, 62.4 11.8, 63.2 11.0, 62.9 10.8,
64.0 13.0, 63.6 13.4,
64.0 12.5, 64.1 12.8, 64.2 9.5, 64.2 12.3, 64.3 12.9, 64.3 11.9, 64.4 12.6, 64.5 15.15, 64.5 12.4, 64.6 12.8, 64.7 11.1, 64.8 12.5,
64.9 12.7, 65.0 12.3, 65.1 12.9, 65.2 12.6, 65.3 11.9, 65.4 12.4, 65.5 12.8, 65.6 12.5, 65.7 12.2, 65.8 12.7, 65.9 11.1, 64.4 13.1,
65.0 13.0, 65.6 13.1, 64.1 11.5, 65.2 11.7,
66.0 12.6, 66.0 9.3, 66.1 9.05, 66.2 12.3, 66.3 12.8, 66.5 12.5, 66.6 11.9, 66.7 12.7, 66.8 11.1, 66.9 12.4, 67.1 12.6, 67.3 12.9,
67.4 9.1, 67.5 12.4, 67.7 12.7, 67.8 12.0, 67.9 12.5, 66.4 13.2, 67.2 11.2,
68.0 9.2, 68.1 12.5, 68.3 12.2, 68.5 9.3, 68.6 12.6, 68.8 12.4, 69.0 9.3, 69.1 12.7, 69.3 12.3, 69.5 12.5, 69.7 12.4, 69.8 11.9,
68.4 11.1,
70.1 12.5, 70.3 9.4, 70.4 12.3, 70.6 9.5, 70.7 12.4, 71.0 12.5, 71.2 12.3, 71.4 9.5, 71.5 12.4, 71.8 12.4, 72.0 9.5, 72.2 12.4,
72.4 12.5, 73.3 9.45, 70.9 11.9, 71.6 12.1
"""

# extra points in the darkest part of the cloud
pts_core = """
12.35 14.4, 12.85 15.3, 13.35 13.9, 13.85 15.0, 14.35 14.1, 14.85 15.2, 15.35 14.6, 15.85 15.9, 16.35 14.5, 16.85 13.8,
17.35 15.0, 17.85 14.8, 18.35 13.6, 18.85 14.6, 19.35 15.1, 19.85 13.4, 20.35 14.2, 20.85 14.6, 21.35 13.1, 21.85 15.3,
12.6 13.2, 13.6 14.5, 14.6 14.8, 15.6 13.6, 16.6 15.9, 17.6 13.5, 18.6 16.0, 19.6 13.2, 20.6 13.7, 21.6 14.0,
22.05 12.9, 22.15 14.1, 22.25 15.3, 22.35 13.5, 22.45 12.3, 22.55 14.7, 22.65 15.7, 22.75 13.2, 22.85 14.4, 22.95 12.6,
23.05 15.0, 23.15 13.8, 23.25 12.2, 23.35 14.9, 23.45 15.9, 23.55 13.4, 23.65 14.2, 23.75 12.8, 23.85 15.4, 23.95 13.6,
22.5 14.0, 23.0 13.0, 23.5 14.6, 23.9 14.3,
24.05 12.8, 24.15 14.0, 24.25 15.2, 24.35 13.4, 24.45 12.2, 24.55 14.6, 24.65 15.6, 24.75 13.1, 24.85 14.3, 24.95 12.5,
25.05 14.9, 25.15 13.7, 25.25 12.1, 25.35 14.8, 25.45 15.8, 25.55 13.3, 25.65 14.1, 25.75 12.7, 25.85 15.3, 25.95 13.5,
24.5 13.9, 25.0 12.9, 25.5 14.5, 25.9 14.2,
26.05 12.8, 26.15 14.0, 26.25 15.1, 26.35 13.4, 26.45 12.2, 26.55 14.6, 26.65 15.5, 26.75 13.1, 26.85 14.3, 26.95 12.5,
27.05 14.9, 27.15 13.7, 27.25 12.1, 27.35 14.8, 27.45 15.7, 27.55 13.3, 27.65 14.1, 27.75 12.7, 27.85 15.3, 27.95 13.5,
26.5 13.9, 27.0 12.9, 27.5 14.5, 27.9 14.2,
28.05 12.7, 28.15 13.9, 28.25 15.0, 28.35 13.3, 28.45 12.1, 28.55 14.5, 28.65 15.4, 28.75 13.0, 28.85 14.2, 28.95 12.4,
29.05 14.8, 29.15 13.6, 29.25 12.0, 29.35 14.7, 29.45 15.6, 29.55 13.2, 29.65 14.0, 29.75 12.6, 29.85 15.2, 29.95 13.4,
28.5 13.8, 29.0 12.8, 29.5 14.4, 29.9 14.1,
30.05 12.6, 30.15 13.8, 30.25 14.9, 30.35 13.2, 30.45 12.0, 30.55 14.4, 30.65 15.3, 30.75 12.9, 30.85 14.1, 30.95 12.3,
31.05 14.7, 31.15 13.5, 31.25 11.9, 31.35 14.6, 31.45 15.5, 31.55 13.1, 31.65 13.9, 31.75 12.5, 31.85 15.1, 31.95 13.3,
30.5 13.7, 31.0 12.7, 31.5 14.3, 31.9 14.0,
32.05 12.5, 32.15 13.7, 32.25 14.8, 32.35 13.1, 32.45 11.9, 32.55 14.3, 32.65 15.2, 32.75 12.8, 32.85 14.0, 32.95 12.2,
33.05 14.6, 33.15 13.4, 33.25 11.8, 33.35 14.5, 33.45 15.4, 33.55 13.0, 33.65 13.8, 33.75 12.4, 33.85 15.0, 33.95 13.2,
32.5 13.6, 33.0 12.6, 33.5 14.2, 33.9 13.9,
34.05 12.5, 34.15 13.6, 34.25 14.7, 34.35 13.0, 34.45 11.9, 34.55 14.2, 34.65 15.1, 34.75 12.7, 34.85 13.9, 34.95 12.2,
35.05 14.5, 35.15 13.3, 35.25 11.8, 35.35 14.4, 35.45 15.3, 35.55 12.9, 35.65 13.7, 35.75 12.4, 35.85 14.9, 35.95 13.1,
34.5 13.5, 35.0 12.6, 35.5 14.1, 35.9 13.8,
36.05 12.4, 36.15 13.5, 36.25 14.6, 36.35 12.9, 36.45 11.8, 36.55 14.1, 36.65 15.0, 36.75 12.6, 36.85 13.8, 36.95 12.1,
37.05 14.4, 37.15 13.2, 37.25 11.7, 37.35 14.3, 37.45 15.2, 37.55 12.8, 37.65 13.6, 37.75 12.3, 37.85 14.8, 37.95 13.0,
36.5 13.4, 37.0 12.5, 37.5 14.0, 37.9 13.7,
38.05 12.3, 38.15 13.4, 38.25 14.5, 38.35 12.8, 38.45 11.8, 38.55 14.0, 38.65 14.9, 38.75 12.5, 38.85 13.7, 38.95 12.0,
39.05 14.3, 39.15 13.1, 39.25 11.7, 39.35 14.2, 39.45 15.0, 39.55 12.7, 39.65 13.5, 39.75 12.2, 39.85 14.7, 39.95 12.9,
38.5 13.3, 39.0 12.4, 39.5 13.9, 39.9 13.6,
40.05 12.2, 40.15 13.3, 40.25 14.4, 40.35 12.7, 40.45 11.7, 40.55 13.9, 40.65 14.7, 40.75 12.4, 40.85 13.6, 40.95 11.9,
41.05 14.1, 41.15 13.0, 41.25 11.6, 41.35 14.0, 41.45 14.8, 41.55 12.6, 41.65 13.4, 41.75 12.1, 41.85 14.5, 41.95 12.8,
40.5 13.2, 41.0 12.3, 41.5 13.8, 41.9 13.5, 40.3 12.0, 41.2 12.9,
42.05 12.2, 42.15 13.2, 42.25 14.3, 42.35 12.6, 42.45 11.7, 42.55 13.8, 42.65 14.6, 42.75 12.4, 42.85 13.5, 42.95 11.9,
43.05 14.0, 43.15 12.9, 43.25 11.6, 43.35 13.9, 43.45 14.7, 43.55 12.5, 43.65 13.3, 43.75 12.1, 43.85 14.4, 43.95 12.7,
42.5 13.1, 43.0 12.3, 43.5 13.7, 43.9 13.4, 42.3 12.0, 43.2 12.8,
44.05 12.1, 44.15 13.1, 44.25 14.2, 44.35 12.5, 44.45 11.6, 44.55 13.7, 44.65 14.5, 44.75 12.3, 44.85 13.4, 44.95 11.8,
45.05 13.9, 45.15 12.8, 45.25 11.5, 45.35 13.8, 45.45 14.6, 45.55 12.4, 45.65 13.2, 45.75 12.0, 45.85 14.3, 45.95 12.6,
44.5 13.0, 45.0 12.2, 45.5 13.6, 45.9 13.3, 44.3 11.9, 45.2 12.7,
46.05 12.1, 46.15 13.0, 46.25 14.1, 46.35 12.5, 46.45 11.6, 46.55 13.6, 46.65 14.4, 46.75 12.3, 46.85 13.3, 46.95 11.8,
47.05 13.8, 47.15 12.8, 47.25 11.5, 47.35 13.7, 47.45 14.5, 47.55 12.4, 47.65 13.1, 47.75 12.0, 47.85 14.2, 47.95 12.6,
46.5 12.9, 47.0 12.2, 47.5 13.5, 47.9 13.2, 46.3 11.9, 47.2 12.7,
48.05 12.1, 48.15 12.9, 48.25 13.9, 48.35 12.5, 48.45 11.7, 48.55 13.5, 48.65 14.2, 48.75 12.3, 48.85 13.2, 48.95 11.9,
49.05 13.7, 49.15 12.8, 49.25 11.6, 49.35 13.6, 49.45 14.3, 49.55 12.4, 49.65 13.0, 49.75 12.0, 49.85 14.0, 49.95 12.6,
48.5 12.9, 49.0 12.2, 49.5 13.4, 49.9 13.2, 48.3 12.0, 49.2 12.7,
50.05 12.2, 50.15 12.9, 50.25 13.7, 50.35 12.5, 50.45 11.9, 50.55 13.3, 50.65 13.9, 50.75 12.3, 50.85 13.1, 50.95 12.0,
51.05 13.5, 51.15 12.7, 51.25 11.8, 51.35 13.4, 51.45 14.0, 51.55 12.4, 51.65 12.9, 51.75 12.1, 51.85 13.7, 51.95 12.6,
50.5 12.8, 51.0 12.2, 51.5 13.2, 51.9 13.0, 50.3 12.4, 51.2 12.6, 50.7 13.5, 51.7 13.3,
52.05 12.2, 52.15 12.9, 52.25 13.6, 52.35 12.5, 52.45 12.0, 52.55 13.3, 52.65 13.8, 52.75 12.3, 52.85 13.1, 52.95 12.0,
53.05 13.5, 53.15 12.7, 53.25 11.9, 53.35 13.4, 53.45 13.9, 53.55 12.4, 53.65 12.9, 53.75 12.1, 53.85 13.6, 53.95 12.6,
52.5 12.8, 53.0 12.2, 53.5 13.2, 53.9 13.0, 52.3 12.4, 53.2 12.6, 52.7 13.5, 53.7 13.3,
54.05 12.3, 54.15 12.9, 54.25 13.5, 54.35 12.5, 54.45 12.0, 54.55 13.2, 54.65 13.7, 54.75 12.3, 54.85 13.0, 54.95 12.1,
55.05 13.4, 55.15 12.7, 55.25 12.0, 55.35 13.3, 55.45 13.8, 55.55 12.4, 55.65 12.9, 55.75 12.2, 55.85 13.5, 55.95 12.6,
54.5 12.8, 55.0 12.3, 55.5 13.1, 55.9 13.0, 54.3 12.4, 55.2 12.6, 54.7 13.4, 55.7 13.3,
56.05 12.3, 56.15 12.9, 56.25 13.4, 56.35 12.5, 56.45 12.1, 56.55 13.2, 56.65 13.6, 56.75 12.3, 56.85 13.0, 56.95 12.1,
57.05 13.3, 57.15 12.7, 57.25 12.0, 57.35 13.2, 57.45 13.7, 57.55 12.4, 57.65 12.9, 57.75 12.2, 57.85 13.4, 57.95 12.6,
56.5 12.8, 57.0 12.4, 57.5 13.1, 57.9 13.0, 56.3 12.4, 57.2 12.6, 56.7 13.4, 57.7 13.3,
58.05 12.3, 58.15 12.8, 58.25 13.3, 58.35 12.5, 58.45 12.1, 58.55 13.1, 58.65 13.5, 58.75 12.3, 58.85 12.9, 58.95 12.1,
59.05 13.2, 59.15 12.6, 59.25 12.0, 59.35 13.1, 59.45 13.6, 59.55 12.4, 59.65 12.8, 59.75 12.2, 59.85 13.3, 59.95 12.6,
58.5 12.7, 59.0 12.4, 59.5 13.0, 59.9 12.9,
60.05 12.4, 60.15 12.8, 60.25 13.2, 60.35 12.5, 60.45 12.2, 60.55 13.0, 60.65 12.6, 60.75 12.3, 60.85 12.9, 60.95 12.2,
61.05 12.7, 61.15 12.5, 61.25 12.1, 61.35 13.0, 61.45 12.6, 61.55 12.4, 61.65 12.8, 61.75 12.3, 61.85 13.1, 61.95 12.6,
62.05 12.4, 62.25 12.7, 62.45 12.2, 62.65 12.9, 62.85 12.5, 63.05 12.4, 63.25 12.8, 63.45 12.3, 63.65 12.6, 63.85 12.9,
62.35 13.0, 63.15 12.5, 63.55 12.2, 62.95 12.7,
64.25 12.6, 64.65 12.4, 65.05 12.7, 65.45 12.5, 65.85 12.6, 66.25 12.5, 66.65 12.4, 67.05 12.6, 67.45 12.5, 68.25 12.4,
68.95 12.5, 69.45 12.6, 70.25 12.4, 70.85 12.3, 71.35 12.5, 72.05 12.3
"""

x_ticks = [0, 10, 20, 30, 40, 50, 60, 70, 80]
y_ticks = [6, 8, 10, 12, 14, 16, 18, 20, 22]


def parse(block):
    pairs = [p.split() for p in block.replace("\n", " ").split(",") if p.strip()]
    return np.array(pairs, dtype=float)


data = np.vstack([parse(b) for b in [pts_00_10, pts_10_20, pts_20_30, pts_30_40,
                                      pts_40_50, pts_50_60, pts_60_73, pts_core]])

fig = plt.figure(figsize=(7.22, 4.04), dpi=100)
ax = fig.add_axes([0.0734, 0.089, 0.9127, 0.869])

ax.scatter(data[:, 0], data[:, 1], s=12, color="#66a800", alpha=0.8,
           edgecolors="none", label="Continent")

ax.set_xlim(0, 80)
ax.set_ylim(6, 22)
ax.set_xticks(x_ticks)
ax.set_yticks(y_ticks)
ax.tick_params(labelsize=11.5, direction="in", color="#999999", length=4, pad=0.5,
               top=True, right=True)
for sp in ax.spines.values():
    sp.set_color("#bbbbbb")
ax.grid(True, linestyle=":", color="#888888", linewidth=1)
ax.set_axisbelow(True)

ax.set_xlabel("Renewables Fraction", fontsize=12.5, labelpad=0)
ax.set_ylabel("Synchronous Inertia ($MWs^3$ )", fontsize=13, labelpad=0)

leg = ax.legend(loc="upper right", scatterpoints=3, fontsize=11, frameon=True,
                fancybox=True, borderpad=0.4, handletextpad=0.3)
leg.get_frame().set_edgecolor("#bbbbbb")

fig.savefig("out.png", dpi=100)
